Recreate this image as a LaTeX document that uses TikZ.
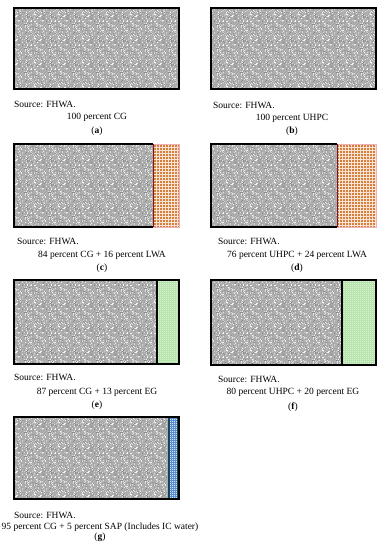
\documentclass[tikz,border=0pt]{standalone}
\usepackage{fontspec}
\setmainfont{Liberation Serif}
\usetikzlibrary{patterns.meta}

\definecolor{lwafill}{RGB}{253,226,214}
\definecolor{lwadot}{RGB}{210,128,60}
\definecolor{lwaedge}{RGB}{125,20,30}
\definecolor{lwarim}{RGB}{240,175,180}
\definecolor{egfill}{RGB}{182,228,172}
\definecolor{sapfill}{RGB}{92,142,214}
\definecolor{sapedge}{RGB}{18,72,84}

% grainy concrete texture
\tikzdeclarepattern{
  name=grain, type=colored,
  bounding box={(-1pt,-1pt) and (25pt,25pt)},
  tile size={(24pt,24pt)},
  code={
    \fill[black!32] (-1pt,-1pt) rectangle (25pt,25pt);
    \pgfmathsetseed{4711}
    \foreach \k in {1,...,340}{
      \pgfmathsetmacro\gx{int(rnd*24)}
      \pgfmathsetmacro\gy{int(rnd*24)}
      \pgfmathsetmacro\gc{int(rnd*50)}
      \fill[black!\gc] (\gx pt,\gy pt) rectangle ++(1pt,1pt);
    }
  }
}
\tikzdeclarepattern{
  name=lwagrid, type=colored,
  bounding box={(-0.2pt,-0.2pt) and (3.2pt,3.2pt)},
  tile size={(3pt,3pt)},
  code={
    \fill[lwafill] (-0.2pt,-0.2pt) rectangle (3.2pt,3.2pt);
    \fill[lwadot] (1pt,1pt) rectangle (3pt,3pt);
  }
}
\tikzdeclarepattern{
  name=egdots, type=colored,
  bounding box={(-0.2pt,-0.2pt) and (2.2pt,2.2pt)},
  tile size={(2pt,2pt)},
  code={
    \fill[egfill] (-0.2pt,-0.2pt) rectangle (2.2pt,2.2pt);
    \fill[white!50!egfill] (0pt,0pt) rectangle (1pt,1pt);
  }
}
\tikzdeclarepattern{
  name=sapdots, type=colored,
  bounding box={(-0.2pt,-0.2pt) and (2.2pt,2.2pt)},
  tile size={(2pt,2pt)},
  code={
    \fill[sapfill] (-0.2pt,-0.2pt) rectangle (2.2pt,2.2pt);
    \fill[white!75!sapfill] (0pt,0pt) rectangle (1pt,1pt);
  }
}

\begin{document}
\begin{tikzpicture}[
  x=1pt,y=-1pt,
  font=\fontsize{9.5}{11}\selectfont,
  srcnote/.style={anchor=west,inner sep=0pt},
  mixnote/.style={inner sep=0pt},
  panel/.style={inner sep=0pt},
  mix/.style={pattern=grain},
  frame/.style={draw=black,line width=1.1pt},
  lwa/.style={pattern=lwagrid,draw=lwarim,line width=0.6pt},
  eg/.style={pattern=egdots},
  sap/.style={pattern=sapdots}
]
  \useasboundingbox (0,0) rectangle (381,550);

  % (a) 100 percent CG
  \fill[mix] (14,8) rectangle (179,89);
  \draw[frame] (14,8) rectangle (179,89);
  \node[srcnote] (srcA) at (14,104) {Source: FHWA.};
  \node[mixnote] (mixA) at (97,117) {100 percent CG};
  \node[panel] (tagA) at (97,131) {(\textbf{a})};

  % (b) 100 percent UHPC
  \fill[mix] (211,8) rectangle (376,89);
  \draw[frame] (211,8) rectangle (376,89);
  \node[srcnote] (srcB) at (213,105) {Source: FHWA.};
  \node[mixnote] (mixB) at (292,118) {100 percent UHPC};
  \node[panel] (tagB) at (292,131) {(\textbf{b})};

  % (c) CG + LWA
  \fill[mix] (14,144) rectangle (153,227);
  \draw[lwa] (153,144) rectangle (179,227);
  \draw[frame] (153,144) -- (14,144) -- (14,227) -- (153,227);
  \draw[lwaedge,line width=1pt] (153,144) -- (153,227);
  \node[srcnote] (srcC) at (17,241) {Source: FHWA.};
  \node[mixnote] (mixC) at (102,255) {84 percent CG + 16 percent LWA};
  \node[panel] (tagC) at (102,268) {(\textbf{c})};

  % (d) UHPC + LWA
  \fill[mix] (211,144) rectangle (337,227);
  \draw[lwa] (337,144) rectangle (376,227);
  \draw[frame] (337,144) -- (211,144) -- (211,227) -- (337,227);
  \draw[lwaedge,line width=1pt] (337,144) -- (337,227);
  \node[srcnote] (srcD) at (218,241) {Source: FHWA.};
  \node[mixnote] (mixD) at (297,255) {76 percent UHPC + 24 percent LWA};
  \node[panel] (tagD) at (297,268) {(\textbf{d})};

  % (e) CG + EG
  \fill[mix] (14,280) rectangle (157,364);
  \fill[eg] (157,280) rectangle (179,364);
  \draw[frame] (157,280) -- (157,364);
  \draw[frame] (14,280) rectangle (179,364);
  \node[srcnote] (srcE) at (14,377) {Source: FHWA.};
  \node[mixnote] (mixE) at (97,392) {87 percent CG + 13 percent EG};
  \node[panel] (tagE) at (97,405) {(\textbf{e})};

  % (f) UHPC + EG
  \fill[mix] (211,280) rectangle (342,365);
  \fill[eg] (342,280) rectangle (376,365);
  \draw[frame] (342,280) -- (342,365);
  \draw[frame] (211,280) rectangle (376,365);
  \node[srcnote] (srcF) at (218,379) {Source: FHWA.};
  \node[mixnote] (mixF) at (293,392) {80 percent UHPC + 20 percent EG};
  \node[panel] (tagF) at (293,407) {(\textbf{f})};

  % (g) CG + SAP
  \fill[mix] (14,417) rectangle (169,499);
  \fill[sap] (169,417) rectangle (178,499);
  \draw[sapedge,line width=1.2pt] (169,417) -- (169,499);
  \draw[sapedge,line width=1pt] (177,417) -- (177,499);
  \draw[frame] (14,417) rectangle (179,499);
  \node[srcnote] (srcG) at (14,515) {Source: FHWA.};
  \node[mixnote] (mixG) at (100,527) {95 percent CG + 5 percent SAP (Includes IC water)};
  \node[panel] (tagG) at (100,537) {(\textbf{g})};
\end{tikzpicture}
\end{document}
